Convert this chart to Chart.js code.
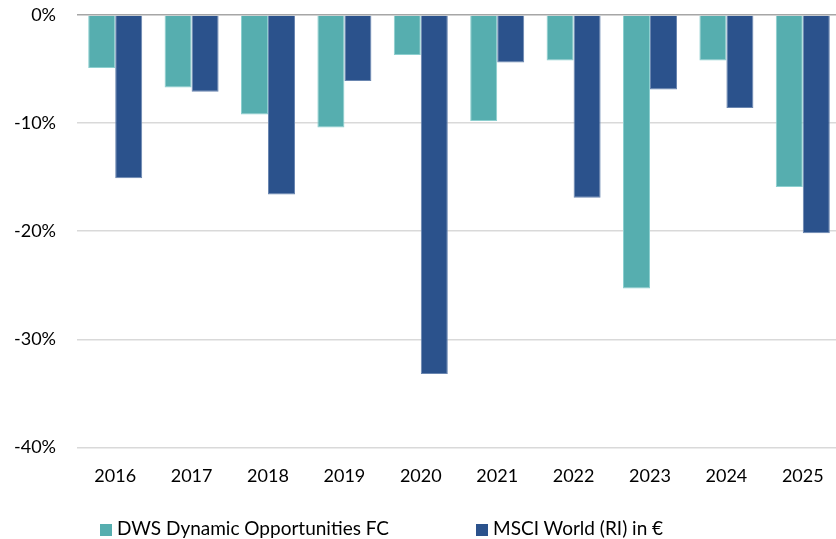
<!DOCTYPE html>
<html>
<head>
<meta charset="utf-8">
<script src="https://cdn.jsdelivr.net/npm/chart.js@4"></script>
<style>
  html, body { margin: 0; padding: 0; background: #fff; overflow: hidden; }
  #wrap { position: relative; width: 841px; height: 539px; }
  .legend-item { position: absolute; top: 517px; font: 19px Lato, sans-serif; color: #000; white-space: nowrap; line-height: 22px; }
  .legend-item span { display: inline-block; width: 12px; height: 12px; margin-right: 5px; vertical-align: -1px; }
</style>
</head>
<body>
<div id="wrap">
  <canvas id="drawdownChart"></canvas>
  <div class="legend-item" id="legend0" style="left: 100px;"><span></span></div>
  <div class="legend-item" id="legend1" style="left: 476px;"><span></span></div>
</div>
<script>
const years = ['2016', '2017', '2018', '2019', '2020', '2021', '2022', '2023', '2024', '2025'];
const fundValues = [-4.9, -6.7, -9.2, -10.4, -3.7, -9.8, -4.2, -25.3, -4.2, -15.9];
const indexValues = [-15.1, -7.1, -16.6, -6.1, -33.2, -4.4, -16.9, -6.9, -8.6, -20.2];
const seriesNames = ['DWS Dynamic Opportunities FC', 'MSCI World (RI) in €'];
const seriesColors = ['#56AEAF', '#2B528C'];

const ctx = document.getElementById('drawdownChart').getContext('2d');
const drawdownChart = new Chart(ctx, {
    type: 'bar',
    data: {
        labels: years,
        datasets: [{
            label: seriesNames[0],
            data: fundValues,
            backgroundColor: seriesColors[0],
            borderColor: '#8ccfcf',
            borderWidth: 1,
            borderSkipped: 'start'
        }, {
            label: seriesNames[1],
            data: indexValues,
            backgroundColor: seriesColors[1],
            borderColor: '#6a86b0',
            borderWidth: 1,
            borderSkipped: 'start'
        }]
    },
    options: {
        responsive: true,
        maintainAspectRatio: false,
        animation: false,
        categoryPercentage: 0.707,
        barPercentage: 1.0,
        layout: {
            padding: { top: 0, right: 0, bottom: 42, left: 0 }
        },
        plugins: {
            tooltip: { enabled: false },
            legend: { display: false }
        },
        scales: {
            x: {
                grid: { display: false },
                border: { display: false },
                ticks: {
                    font: { family: 'Lato', size: 18 },
                    color: '#000',
                    padding: 10
                }
            },
            y: {
                min: -40,
                max: 0,
                afterFit: (axis) => {
                    axis.width = 77;
                    axis.paddingTop = 15;
                    axis.paddingBottom = 0;
                },
                grid: {
                    drawTicks: false,
                    color: (c) => c.tick && c.tick.value === 0 ? '#a6a6a6' : '#d9d9d9',
                    lineWidth: 1.5
                },
                border: { display: false },
                ticks: {
                    stepSize: 10,
                    padding: 21,
                    font: { family: 'Lato', size: 18 },
                    color: '#000',
                    callback: (v) => v + '%'
                }
            }
        }
    }
});

// legend as plain html, the two entries are not centred in the original
drawdownChart.data.datasets.forEach((ds, i) => {
    const item = document.getElementById('legend' + i);
    item.querySelector('span').style.background = ds.backgroundColor;
    item.appendChild(document.createTextNode(ds.label));
});
</script>
</body>
</html>
